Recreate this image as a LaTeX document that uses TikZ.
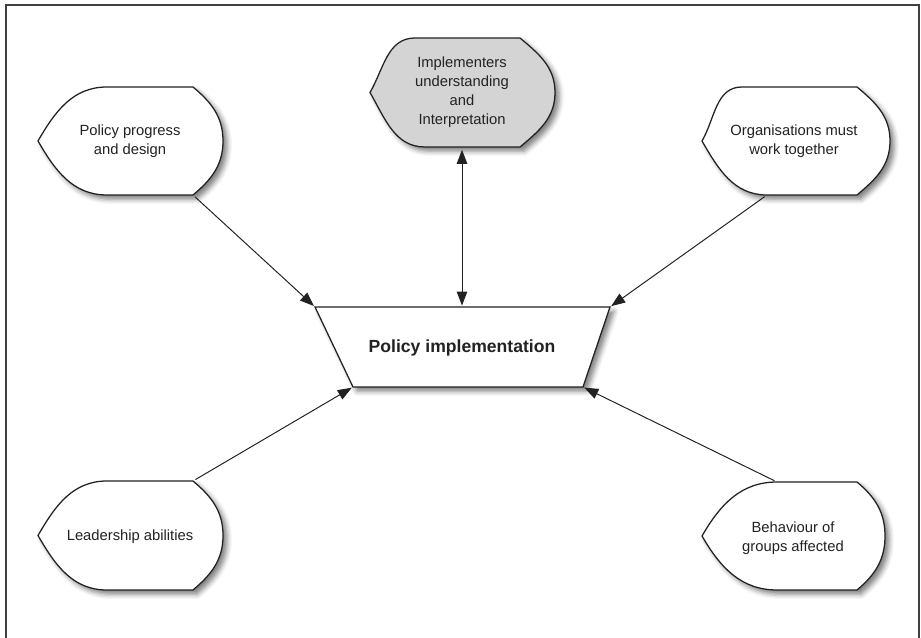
\documentclass[tikz,border=0pt]{standalone}
\usepackage{fontspec}
\setmainfont{Liberation Sans}
\usepackage{tikz}
\usetikzlibrary{arrows.meta,shadows.blur}

\definecolor{ink}{HTML}{222222}
\definecolor{shade}{HTML}{D4D4D4}

\tikzset{
  >={Triangle[length=10pt,width=7.5pt]},
  frame/.style={draw=black!75,line width=1.3pt},
  idea/.style={draw=ink,line width=0.9pt,fill=white,
    blur shadow={shadow xshift=3pt,shadow yshift=-3pt,shadow blur radius=3.5pt,shadow opacity=50}},
  idea text/.style={align=center,text=ink,font=\fontsize{10.5}{13.4}\selectfont},
  link/.style={draw=ink,line width=0.7pt,->,shorten <=2pt,shorten >=1pt},
}

% idea outline: point on the left, bulge on the right
% #3 point x, #4/#5 ends of the left curves (top/bottom), #6 right corners x, #7 bulge x, #8 top y, #9 bottom y
\newcommand{\idea}[9][]{%
  \path[idea,#1] (#4,#8) -- (#6,#8) to[out=-40,in=90] (#7,{(#8+#9)/2})
    to[out=-90,in=40] (#6,#9) -- (#5,#9) to[out=180,in=-60] (#3,{(#8+#9)/2})
    to[out=60,in=180] (#4,#8) -- cycle;
  \coordinate (#2-tl) at (#4,#8);
  \coordinate (#2-tr) at (#6,#8);
  \coordinate (#2-bl) at (#5,#9);
  \coordinate (#2-br) at (#6,#9);
}

\begin{document}
\begin{tikzpicture}[x=0.025cm,y=0.025cm]
  \useasboundingbox (0,0) rectangle (921,638);
  % frame, open at the bottom
  \draw[frame] (6,-5) -- (6,633) -- (919,633) -- (919,-5);

  % the five ideas
  \idea{progress}{38}{107}{107}{193}{223}{551}{443}
  \node[idea text] (progress) at (130,497) {Policy progress\\and design};

  \idea[fill=shade]{understanding}{370}{415}{425}{520}{555}{600}{491}
  \node[idea text] (understanding) at (462,546) {Implementers\\understanding\\and\\Interpretation};

  \idea{organise}{702}{742}{767}{857}{890}{551}{443}
  \node[idea text] (organise) at (794,497) {Organisations must\\work together};

  \idea{leader}{38}{107}{107}{193}{223}{157}{48}
  \node[idea text] (leader) at (130,101) {Leadership abilities};

  \idea{behave}{702}{777}{777}{857}{885}{156}{48}
  \node[idea text] (behave) at (793,100) {Behaviour of\\groups affected};

  % policy implementation
  \path[idea] (315,331) coordinate (policy-tl) -- (610,331) coordinate (policy-tr)
    -- (583,251) coordinate (policy-br) -- (353,251) coordinate (policy-bl) -- cycle;
  \node[text=ink,font=\fontsize{12.5}{15}\bfseries\selectfont] (policy) at (462,290) {Policy implementation};
  \coordinate (policy-n) at (policy |- policy-tl);

  % influences
  \draw[link] (progress-br) -- (policy-tl);
  \draw[link] (organise-bl) -- (policy-tr);
  \draw[link] (leader-tr) -- (policy-bl);
  \draw[link] (behave-tl) -- (policy-br);
  \draw[link,<->] (understanding |- understanding-bl) -- (policy-n);
\end{tikzpicture}
\end{document}
